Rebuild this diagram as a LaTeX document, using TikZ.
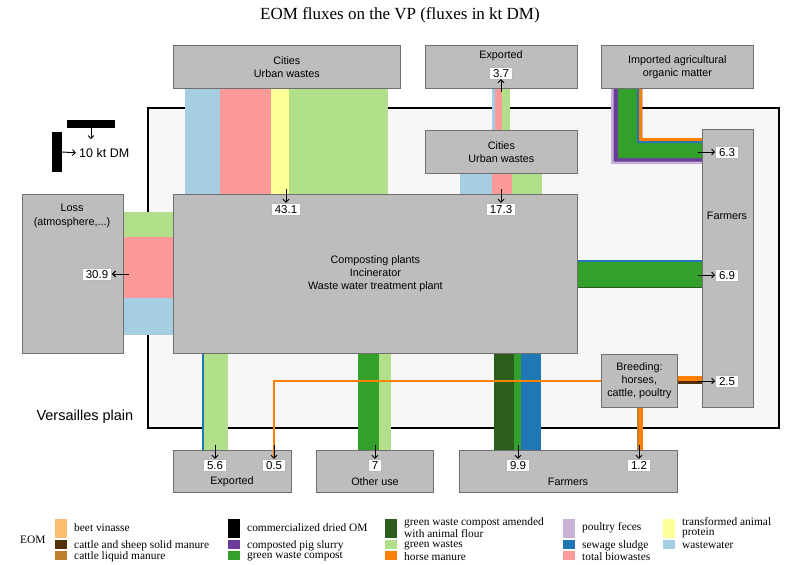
\documentclass[tikz,border=0pt]{standalone}
\usepackage{fontspec}
\setmainfont{Liberation Serif}
\setsansfont{Liberation Sans}
\usetikzlibrary{positioning,arrows.meta}

\definecolor{wastewater}{HTML}{A6CEE3}
\definecolor{sludge}{HTML}{1F78B4}
\definecolor{greenwaste}{HTML}{B2DF8A}
\definecolor{gwcompost}{HTML}{33A02C}
\definecolor{gwflour}{HTML}{2B5E1C}
\definecolor{biowaste}{HTML}{FB9A99}
\definecolor{animalprot}{HTML}{FFFF99}
\definecolor{vinasse}{HTML}{FDBF6F}
\definecolor{horse}{HTML}{FF7F00}
\definecolor{poultry}{HTML}{CAB2D6}
\definecolor{pigslurry}{HTML}{6A3D9A}
\definecolor{solidman}{HTML}{543005}
\definecolor{liquidman}{HTML}{BF812D}
\definecolor{boxgray}{HTML}{BDBDBD}
\definecolor{boxline}{HTML}{6F6F6F}
\definecolor{plaingray}{HTML}{F7F7F7}

\newcommand{\boxfont}{\sffamily\fontsize{10.8}{13.3}\selectfont}
\newcommand{\valfont}{\sffamily\fontsize{11.5}{13}\selectfont}
\newcommand{\legfont}{\fontsize{11.4}{10.4}\selectfont}

\tikzset{
  box/.style={draw=boxline, line width=0.8pt, fill=boxgray, inner sep=0pt, anchor=north west, align=center, font=\boxfont},
  txt/.style={inner sep=0pt, align=center, font=\boxfont},
  val/.style={draw=boxline!50, line width=0.6pt, fill=white, inner xsep=3.5pt, inner ysep=1.8pt, text height=8.2pt, text depth=0pt, font=\valfont},
  legtxt/.style={anchor=west, inner sep=0pt, align=left, font=\legfont},
  flow/.style={-{Straight Barb[length=3pt,width=6pt]}, line width=0.9pt},
}

\begin{document}
\begin{tikzpicture}[x=1pt,y=-1pt]
    \useasboundingbox (0,0) rectangle (788,565);
    \node[font=\fontsize{17}{20}\selectfont] (title) at (400,15) {EOM fluxes on the VP (fluxes in kt DM)};

    % Versailles plain
    \draw[line width=2pt, fill=plaingray] (148,108) rectangle (779,428);
    \node[anchor=west, font=\sffamily\fontsize{14.5}{16}\selectfont] (vp) at (33,417) {Versailles plain};

    % scale
    \node[fill=black, inner sep=0pt, minimum width=48, minimum height=8] (hbar) at (91,124) {};
    \node[fill=black, inner sep=0pt, minimum width=10, minimum height=40] (vbar) at (57,152) {};
    \node[anchor=west, inner sep=0pt, font=\sffamily\fontsize{12.5}{14}\selectfont] (scaletxt) at (79,153) {10 kt DM};
    \draw[flow] (hbar.south) -- ++(0,11);
    \draw[flow, shorten >=3pt] (vbar.east) -- (scaletxt.west);

    % fluxes
    \foreach \xa/\xb/\col in {185/220/wastewater, 220/271/biowaste, 271/289/animalprot, 289/388/greenwaste}
        \fill[\col] (\xa,88) rectangle (\xb,194);
    \foreach \xa/\xb/\col in {492/495/wastewater, 495/502/biowaste, 502/510/greenwaste}
        \fill[\col] (\xa,88) rectangle (\xb,130);
    \foreach \xa/\xb/\col in {460/492/wastewater, 492/512/biowaste, 512/542/greenwaste}
        \fill[\col] (\xa,173) rectangle (\xb,194);
    \foreach \ya/\yb/\col in {212/237/greenwaste, 237/298/biowaste, 298/335/wastewater}
        \fill[\col] (123,\ya) rectangle (173,\yb);
    \foreach \ya/\yb/\col in {260/261.5/sludge, 261.5/286.5/gwcompost, 286.5/288/gwflour}
        \fill[\col] (577,\ya) rectangle (702,\yb);
    \foreach \xa/\xb/\col in {201.5/203.5/sludge, 203.5/228/greenwaste, 358/379/gwcompost, 379/391/greenwaste,
                              494/514/gwflour, 514/521/gwcompost, 521/541/sludge}
        \fill[\col] (\xa,353) rectangle (\xb,450);
    \foreach \dx/\dy/\col in {0/0/poultry, 2.5/2.5/pigslurry, 7/6/gwcompost, 26/21/sludge, 28/23/horse}
        \fill[\col] ({611+\dx},88) -- ({611+\dx},{164-\dy}) -- (702,{164-\dy}) -- (702,138) -- (642,138) -- (642,88) -- cycle;
    \fill[horse] (677,376) rectangle (702,381);
    \fill[solidman] (677,381) rectangle (702,384);
    \fill[liquidman] (636.5,407) rectangle (638.5,450);
    \fill[horse] (638.5,407) rectangle (642.5,450);

    % boxes
    \node[box, minimum width=227, minimum height=43] (cities) at (173,45) {Cities\\Urban wastes};
    \node[box, minimum width=152, minimum height=43] (expTop) at (425,45) {};
    \node[box, minimum width=152, minimum height=43] (citiesB) at (425,130) {Cities\\Urban wastes};
    \node[box, minimum width=152, minimum height=43] (imported) at (601,45) {Imported agricultural\\organic matter};
    \node[box, minimum width=404, minimum height=159] (plants) at (173,194) {Composting plants\\Incinerator\\Waste water treatment plant};
    \node[box, minimum width=101, minimum height=159] (loss) at (22,194) {};
    \node[box, minimum width=51, minimum height=278] (farmersR) at (702,129) {};
    \node[box, minimum width=76, minimum height=53] (breeding) at (601,354) {Breeding:\\horses,\\cattle, poultry};
    \node[box, minimum width=118, minimum height=42] (expBot) at (173,450) {};
    \node[box, minimum width=117, minimum height=42] (other) at (316,450) {};
    \node[box, minimum width=218, minimum height=42] (farmersB) at (459,450) {};

    \node[txt] (expTopTxt) at (501,56) {Exported};
    \node[txt] (lossTxt) at (72,216) {Loss\\(atmosphere,...)};
    \node[txt] (farmersRTxt) at (727,216) {Farmers};
    \node[txt] (expBotTxt) at (232,482) {Exported};
    \node[txt] (otherTxt) at (375,482) {Other use};
    \node[txt] (farmersBTxt) at (568,482) {Farmers};

    % horse manure exported
    \draw[horse, line width=2pt] (breeding.west) -| (274,458);

    % values
    \node[val] (v37) at (501,73) {3.7};
    \node[val] (v431) at (286,209) {43.1};
    \node[val] (v173) at (501,209) {17.3};
    \node[val] (v309) at (97,274) {30.9};
    \node[val] (v63) at (727,152) {6.3};
    \node[val] (v69) at (727,275) {6.9};
    \node[val] (v25) at (727,381) {2.5};
    \node[val] (v56) at (215,465) {5.6};
    \node[val] (v05) at (274,465) {0.5};
    \node[val] (v7) at (375,465) {7};
    \node[val] (v99) at (518,465) {9.9};
    \node[val] (v12) at (639,465) {1.2};

    \draw[flow] ([yshift=-13pt]v37.south) -- (v37.south);
    \draw[flow] ([xshift=17pt]v309.east) -- (v309.east);
    \foreach \v in {v431,v173,v56,v05,v7,v99,v12}
        \draw[flow] ([yshift=14pt]\v.north) -- (\v.north);
    \foreach \v in {v63,v69,v25}
        \draw[flow] ([xshift=-17pt]\v.west) -- (\v.west);

    % legend
    \node[anchor=west, inner sep=0pt, font=\legfont] (eom) at (20,540) {EOM};
    \foreach \sx/\ya/\yb/\ty/\col/\lab [count=\i] in {
        55/519/538/528/vinasse/{beet vinasse},
        55/540/549/545.5/solidman/{cattle and sheep solid manure},
        55/551/560/556.5/liquidman/{cattle liquid manure},
        228/519/538/528/black/{commercialized dried OM},
        228/540/549/545.5/pigslurry/{composted pig slurry},
        228/551/560/556.5/gwcompost/{green waste compost},
        385/519/538/527.5/gwflour/{green waste compost amended\\with animal flour},
        385/540/549/545.5/greenwaste/{green wastes},
        385/551/560/556.5/horse/{horse manure},
        563/519/538/528/poultry/{poultry feces},
        563/540/549/545.5/sludge/{sewage sludge},
        563/551/560/556.5/biowaste/{total biowastes},
        663/519/538/527.5/animalprot/{transformed animal\\protein},
        663/540/549/545.5/wastewater/{wastewater}}
    {
        \fill[\col] (\sx,\ya) rectangle ({\sx+12},\yb);
        \node[legtxt] (leg\i) at ({\sx+19},\ty) {\lab};
    }
\end{tikzpicture}
\end{document}
